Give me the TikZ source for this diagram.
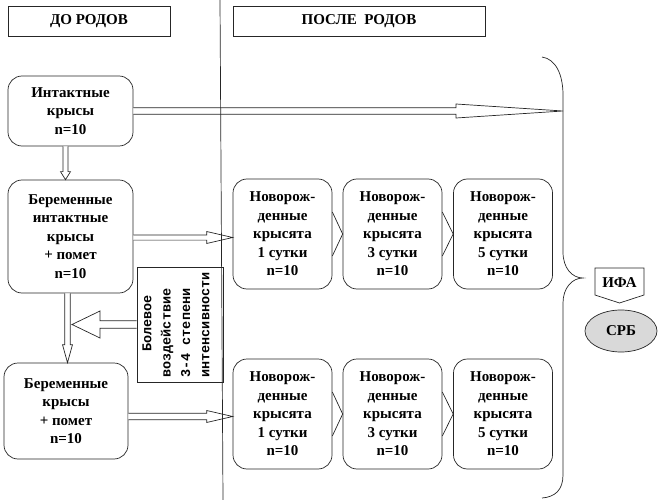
\documentclass[tikz,border=0pt]{standalone}
\usepackage{fontspec}
\setmainfont{Liberation Serif}
\setmonofont{Liberation Mono}
\usetikzlibrary{calc,shapes.geometric}
\begin{document}
\begin{tikzpicture}[x=1pt,y=-1pt,
  every node/.style={inner sep=0pt},
  ln/.style={line width=0.7pt, draw=black!85},
  rbox/.style={ln, draw, rounded corners=14pt, align=center, font=\bfseries\fontsize{15}{18.5}\selectfont},
  hdr/.style={ln, draw, font=\bfseries\fontsize{15}{16}\selectfont},
  hollow/.style={ln, fill=white, line join=miter},
  nb/.style={rbox, minimum width=99pt, minimum height=110pt}
]
\useasboundingbox (0,0) rectangle (659,500);

% headers
\node[hdr, minimum width=162pt, minimum height=30pt] (h1) at (89,21) {ДО РОДОВ};
\node[hdr, minimum width=252pt, minimum height=30pt] (h2) at (359,21) {ПОСЛЕ\ \ РОДОВ};

% left boxes
\node[rbox, minimum width=125pt, minimum height=70pt] (b1) at (70.5,111) {Интактные\\крысы\\n=10};
\node[rbox, minimum width=125pt, minimum height=113pt] (b2) at (70.5,236.5) {Беременные\\интактные\\крысы\\+ помет\\n=10};
\node[rbox, minimum width=124pt, minimum height=96pt] (b3) at (66,411) {Беременные\\крысы\\+ помет\\n=10};

% newborn boxes
\node[nb] (a1) at (282.5,234) {Новорож-\\денные\\крысята\\1 сутки\\n=10};
\node[nb] (c1) at (392.5,234) {Новорож-\\денные\\крысята\\3 сутки\\n=10};
\node[nb] (d1) at (503,234) {Новорож-\\денные\\крысята\\5 сутки\\n=10};
\node[nb] (a2) at (282.5,414) {Новорож-\\денные\\крысята\\1 сутки\\n=10};
\node[nb] (c2) at (392.5,414) {Новорож-\\денные\\крысята\\3 сутки\\n=10};
\node[nb] (d2) at (503,414) {Новорож-\\денные\\крысята\\5 сутки\\n=10};

% chevron connectors
\foreach \p/\q in {a1/c1,c1/d1,a2/c2,c2/d2}{
  \draw[ln] ([yshift=22pt]\p.east) -- (\q.west) -- ([yshift=-22pt]\p.east);
}

% brace
\coordinate (braceIn) at (563,111);
\draw[ln] (542,57) .. controls (556,59) and (563,75) .. (563,95) -- (563,252)
  .. controls (563,268) and (572,278) .. (583,278)
  .. controls (572,278) and (563,288) .. (563,303) -- (563,475)
  .. controls (563,490) and (555,497) .. (542,498);

% pain text box
\node[ln, draw, minimum width=86pt, minimum height=115pt] (tb) at (180,324.5) {};
\node[rotate=90, align=left, font=\ttfamily\bfseries\fontsize{13.5}{19.3}\selectfont] (tbt) at (176,325)
  {\hspace*{26pt}Болевое\\воздействие\\3-4 степени\\интенсивности};
\coordinate (painTip) at (72,324.5);

% hollow arrows
\draw[hollow] let \p1=(b1.east), \p2=(braceIn) in
  (\x1,\y2+3.2pt) -- (\x2-107pt,\y2+3.2pt) -- (\x2-107pt,\y2+7pt) -- (\x2,\y2)
  -- (\x2-107pt,\y2-7pt) -- (\x2-107pt,\y2-3.2pt) -- (\x1,\y2-3.2pt);
\draw[hollow] let \p1=([xshift=-5pt]b1.south), \p2=(b2.north) in
  (\x1-2.5pt,\y1) -- (\x1-2.5pt,\y2+8pt) -- (\x1-5pt,\y2+8pt) -- (\x1,\y2)
  -- (\x1+5pt,\y2+8pt) -- (\x1+2.5pt,\y2+8pt) -- (\x1+2.5pt,\y1);
\draw[hollow] let \p1=([xshift=-3pt]b2.south), \p2=(b3.north) in
  (\x1-2.8pt,\y1) -- (\x1-2.8pt,\y2+18pt) -- (\x1-5pt,\y2+18pt) -- (\x1,\y2)
  -- (\x1+5pt,\y2+18pt) -- (\x1+2.8pt,\y2+18pt) -- (\x1+2.8pt,\y1);
\draw[hollow] let \p1=([yshift=-1pt]b2.east), \p2=(a1.west) in
  (\x1,\y1+2.6pt) -- (\x2-26pt,\y1+2.6pt) -- (\x2-26pt,\y1+6pt) -- (\x2,\y1)
  -- (\x2-26pt,\y1-6pt) -- (\x2-26pt,\y1-2.6pt) -- (\x1,\y1-2.6pt);
\draw[hollow] let \p1=([yshift=-5.5pt]b3.east), \p2=(a2.west) in
  (\x1,\y1+3.3pt) -- (\x2-26pt,\y1+3.3pt) -- (\x2-26pt,\y1+6pt) -- (\x2,\y1)
  -- (\x2-26pt,\y1-6pt) -- (\x2-26pt,\y1-3.3pt) -- (\x1,\y1-3.3pt);
\draw[hollow] let \p1=(tb.west), \p2=(painTip) in
  (\x1,\y1+3.8pt) -- (\x2+28pt,\y1+3.8pt) -- (\x2+28pt,\y1+13.5pt) -- (\x2,\y1)
  -- (\x2+28pt,\y1-13.5pt) -- (\x2+28pt,\y1-3.8pt) -- (\x1,\y1-3.8pt);

% divider
\coordinate (vtop) at (220,0);
\coordinate (vbot) at (223,500);
\draw[ln] (vtop) -- (vbot);

% IFA and CRP
\draw[ln, line join=miter] (595,268) -- (644,268) -- (644,295) -- (619.5,303) -- (595,295) -- cycle;
\node[font=\bfseries\fontsize{15}{16}\selectfont] (ifa) at (619.5,283) {ИФА};
\node[ln, draw, fill=black!15, ellipse, minimum width=72pt, minimum height=42pt, font=\bfseries\fontsize{15}{16}\selectfont] (crp) at (621,331) {СРБ};
\end{tikzpicture}
\end{document}
